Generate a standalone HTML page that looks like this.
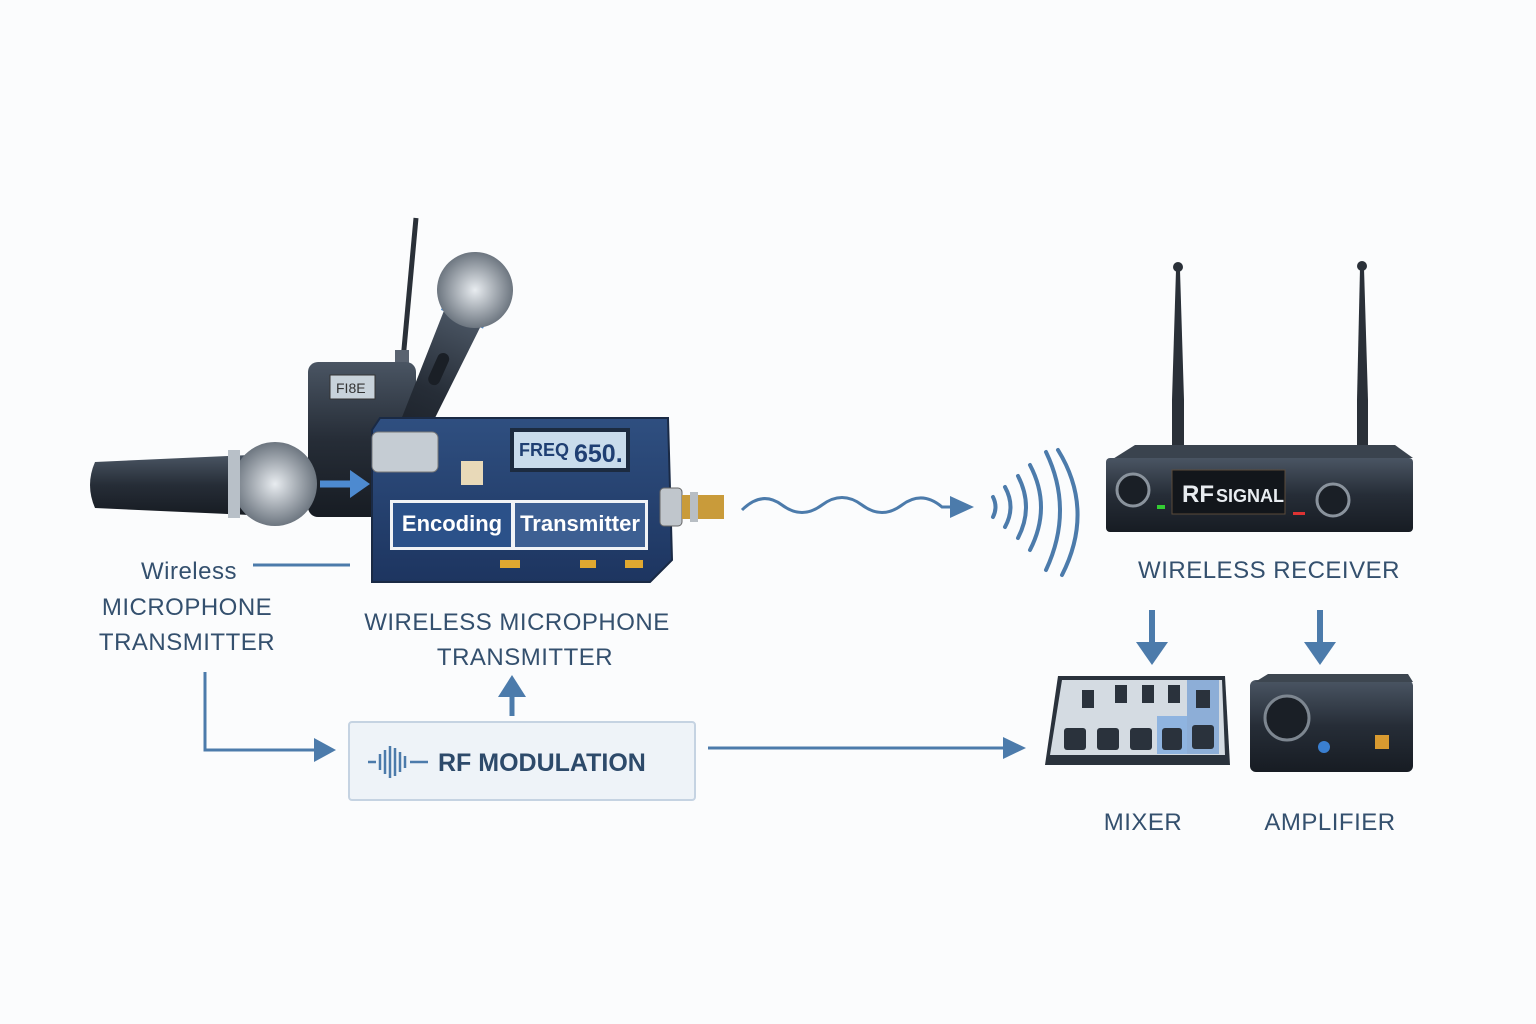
<!DOCTYPE html>
<html><head><meta charset="utf-8"><style>
body{margin:0;background:#fbfcfd}
svg{display:block}
text{font-family:"Liberation Sans",sans-serif}
</style></head><body>
<svg width="1536" height="1024" viewBox="0 0 1536 1024" xmlns="http://www.w3.org/2000/svg">
<defs>
<linearGradient id="dk" x1="0" y1="0" x2="0" y2="1"><stop offset="0" stop-color="#4a5563"/><stop offset=".5" stop-color="#262d37"/><stop offset="1" stop-color="#171c23"/></linearGradient>
<linearGradient id="bd" x1="0" y1="0" x2="0" y2="1"><stop offset="0" stop-color="#2f4f80"/><stop offset="1" stop-color="#1d3560"/></linearGradient>
<radialGradient id="gr"><stop offset="0" stop-color="#e8ecf0"/><stop offset="1" stop-color="#6d7680"/></radialGradient>
</defs>

<!-- bodypack -->
<line x1="403" y1="360" x2="416" y2="218" stroke="#2a3038" stroke-width="5"/>
<rect x="395" y="350" width="14" height="16" fill="#5a6370"/>
<rect x="308" y="362" width="108" height="155" rx="10" fill="url(#dk)"/>
<rect x="330" y="375" width="45" height="24" fill="#c8d2da" stroke="#333"/>
<text x="336" y="393" font-size="14" fill="#333">FI8E</text>

<!-- vertical mic -->
<g transform="rotate(24 475 290)">
<path d="M455 320 L495 320 L488 480 L462 480z" fill="url(#dk)"/>
<rect x="452" y="310" width="46" height="12" fill="#4f87c6"/>
<circle cx="475" cy="290" r="38" fill="url(#gr)"/>
<rect x="468" y="360" width="12" height="34" rx="6" fill="#1a1f26"/>
</g>

<!-- horizontal mic -->
<path d="M95 462 L250 455 L250 515 L95 508 Q85 485 95 462z" fill="url(#dk)"/>
<circle cx="275" cy="484" r="42" fill="url(#gr)"/>
<rect x="228" y="450" width="12" height="68" fill="#b8c0c8"/>

<!-- transmitter board -->
<path d="M380 418 L668 418 L672 560 L650 582 L372 582 L372 430z" fill="url(#bd)" stroke="#1a2a45" stroke-width="2"/>
<rect x="372" y="432" width="66" height="40" rx="6" fill="#c5ccd3" stroke="#777"/>
<rect x="510" y="428" width="120" height="44" fill="#1c2b40"/>
<rect x="514" y="432" width="112" height="36" fill="#c9dcec"/>
<text x="519" y="456" font-size="18" font-weight="bold" fill="#1f3f73">FREQ</text>
<text x="574" y="462" font-size="25" font-weight="bold" fill="#1f3f73">650.</text>
<rect x="461" y="461" width="22" height="24" fill="#e8d9b8"/>
<rect x="390" y="500" width="258" height="50" fill="#f1f3f6"/>
<rect x="393" y="503" width="118" height="44" fill="#2b5189"/>
<rect x="515" y="503" width="130" height="44" fill="#3d5f92"/>
<text x="452" y="531" font-size="22" font-weight="bold" fill="#fff" text-anchor="middle">Encoding</text>
<text x="580" y="531" font-size="22" font-weight="bold" fill="#fff" text-anchor="middle">Transmitter</text>
<rect x="500" y="560" width="20" height="8" fill="#e0a830"/>
<rect x="580" y="560" width="16" height="8" fill="#e0a830"/>
<rect x="625" y="560" width="18" height="8" fill="#e0a830"/>
<rect x="660" y="488" width="22" height="38" rx="4" fill="#c0c6cc" stroke="#666"/>
<rect x="682" y="495" width="42" height="24" fill="#c99b3a"/>
<rect x="690" y="492" width="8" height="30" fill="#b8bec4"/>
<path d="M320 484 H356" stroke="#4d8ad0" stroke-width="7"/><path d="M350 470 L370 484 L350 498z" fill="#4d8ad0"/>

<!-- labels -->
<g font-size="24" fill="#34506e" letter-spacing="0.5">
<text x="189" y="579" text-anchor="middle">Wireless</text>
<text x="187" y="615" text-anchor="middle">MICROPHONE</text>
<text x="187" y="650" text-anchor="middle">TRANSMITTER</text>
<text x="517" y="630" text-anchor="middle">WIRELESS MICROPHONE</text>
<text x="525" y="665" text-anchor="middle">TRANSMITTER</text>
<text x="1269" y="578" text-anchor="middle">WIRELESS RECEIVER</text>
<text x="1143" y="830" text-anchor="middle">MIXER</text>
<text x="1330" y="830" text-anchor="middle">AMPLIFIER</text>
</g>
<line x1="253" y1="565" x2="350" y2="565" stroke="#4c7bab" stroke-width="3"/>

<!-- connectors -->
<path d="M205 672 V750 H318" fill="none" stroke="#4c7bab" stroke-width="3"/>
<path d="M314 738 L336 750 L314 762z" fill="#4c7bab"/>
<path d="M512 716 V695" stroke="#4c7bab" stroke-width="5"/><path d="M498 697 L512 675 L526 697z" fill="#4c7bab"/>
<path d="M708 748 H1005" stroke="#4c7bab" stroke-width="3"/><path d="M1003 737 L1026 748 L1003 759z" fill="#4c7bab"/>
<path d="M1152 610 V645" stroke="#4c7bab" stroke-width="6"/><path d="M1136 642 L1152 665 L1168 642z" fill="#4c7bab"/>
<path d="M1320 610 V645" stroke="#4c7bab" stroke-width="6"/><path d="M1304 642 L1320 665 L1336 642z" fill="#4c7bab"/>

<!-- RF modulation box -->
<rect x="349" y="722" width="346" height="78" rx="3" fill="#eef3f8" stroke="#c5d3e2" stroke-width="2"/>
<g stroke="#4c7bab" stroke-width="2.5">
<line x1="368" y1="762" x2="376" y2="762"/><line x1="380" y1="754" x2="380" y2="770"/><line x1="385" y1="750" x2="385" y2="774"/><line x1="390" y1="746" x2="390" y2="778"/><line x1="395" y1="748" x2="395" y2="776"/><line x1="400" y1="752" x2="400" y2="772"/><line x1="405" y1="756" x2="405" y2="768"/><line x1="410" y1="762" x2="428" y2="762"/>
</g>
<text x="438" y="771" font-size="25" font-weight="bold" fill="#2d4a6a">RF MODULATION</text>

<!-- wave -->
<path d="M742 510 Q762 490 782 505 T822 505 T862 505 T902 505 T942 507 H955" fill="none" stroke="#4c7bab" stroke-width="3"/>
<path d="M950 496 L974 507 L950 518z" fill="#4c7bab"/>
<g fill="none" stroke="#4c7bab" stroke-width="4" stroke-linecap="round">
<path d="M993 497 Q998 507 993 517"/>
<path d="M1005 487 Q1016 507 1005 527"/>
<path d="M1018 476 Q1034 507 1018 538"/>
<path d="M1030 465 Q1052 507 1030 550"/>
<path d="M1046 452 Q1074 510 1046 570"/>
<path d="M1058 450 Q1095 510 1062 575"/>
</g>

<!-- receiver -->
<path d="M1172 455 L1172 400 L1176 270 L1180 270 L1184 400 L1184 455z" fill="#2a3038"/>
<circle cx="1178" cy="267" r="5" fill="#2a3038"/>
<path d="M1357 455 L1357 400 L1360 268 L1364 268 L1368 400 L1368 455z" fill="#2a3038"/>
<circle cx="1362" cy="266" r="5" fill="#2a3038"/>
<path d="M1108 462 L1135 445 L1395 445 L1413 458 Z" fill="#3a434e"/>
<rect x="1106" y="458" width="307" height="74" rx="4" fill="url(#dk)"/>
<rect x="1172" y="470" width="113" height="44" fill="#12161b" stroke="#5a4a3a"/>
<text x="1182" y="502" font-size="24" font-weight="bold" fill="#e8ecf0">RF</text>
<text x="1216" y="502" font-size="18" font-weight="bold" fill="#e8ecf0">SIGNAL</text>
<circle cx="1133" cy="490" r="16" fill="#1a1f26" stroke="#8a939d" stroke-width="3"/>
<circle cx="1333" cy="500" r="16" fill="#1a1f26" stroke="#8a939d" stroke-width="3"/>
<rect x="1157" y="505" width="8" height="4" fill="#3c3"/>
<rect x="1293" y="512" width="12" height="3" fill="#d33"/>

<!-- mixer -->
<path d="M1058 676 L1225 676 L1230 765 L1045 765z" fill="#2a323c"/>
<path d="M1062 680 L1222 680 L1225 755 L1050 755z" fill="#d4dbe2"/>
<rect x="1157" y="716" width="30" height="38" fill="#8fb4e0"/>
<rect x="1187" y="680" width="32" height="74" fill="#5d8fd0" opacity=".6"/>
<g fill="#2a323c">
<rect x="1082" y="690" width="12" height="18"/><rect x="1115" y="685" width="12" height="18"/><rect x="1142" y="685" width="12" height="18"/><rect x="1168" y="685" width="12" height="18"/><rect x="1196" y="690" width="14" height="18"/>
<rect x="1064" y="728" width="22" height="22" rx="3"/><rect x="1097" y="728" width="22" height="22" rx="3"/><rect x="1130" y="728" width="22" height="22" rx="3"/><rect x="1162" y="728" width="20" height="22" rx="3"/><rect x="1192" y="725" width="22" height="24" rx="3"/>
</g>
<!-- amp -->
<rect x="1250" y="680" width="163" height="92" rx="6" fill="url(#dk)"/>
<path d="M1255 682 L1268 674 L1408 674 L1413 682z" fill="#3d4650"/>
<circle cx="1287" cy="718" r="22" fill="#1a1f26" stroke="#7d8690" stroke-width="3"/>
<rect x="1375" y="735" width="14" height="14" fill="#d89a30"/>
<circle cx="1324" cy="747" r="6" fill="#3a7fd0"/>
</svg>
</body></html>
